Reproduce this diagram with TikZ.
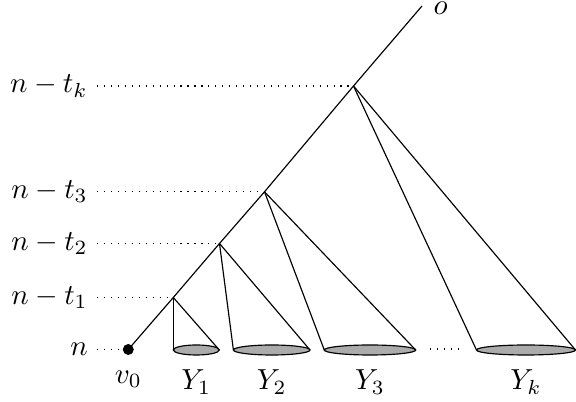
\documentclass[tikz,border=0pt]{standalone}
\begin{document}
\begin{tikzpicture}[x=0.345pt,y=-0.345pt,
  edge/.style={draw=black,line width=0.4pt},
  lvl/.style={draw=black,dotted,line width=0.4pt},
  lab/.style={anchor=east,inner sep=3pt},
  disc/.style={draw=black,fill=black!33,line width=0.4pt}]
\useasboundingbox (0,0) rectangle (576,402);
% main path points
\coordinate (v0) at (128.3,349.5);
\coordinate (a1) at (173.3,297.5);
\coordinate (a2) at (219.5,243.5);
\coordinate (a3) at (264.5,191.8);
\coordinate (ak) at (353.5,86);
\coordinate (top) at (422,6);
% cone bases
\coordinate (b1l) at (173.3,350);
\coordinate (b1r) at (219.3,350);
\coordinate (b2l) at (233.4,350);
\coordinate (b2r) at (310,350);
\coordinate (b3l) at (324.3,350);
\coordinate (b3r) at (415.7,350);
\coordinate (bkl) at (476.5,350);
\coordinate (bkr) at (575.5,350);
% ellipses
\draw[disc] (196.3,350) ellipse [x radius=23,y radius=5];
\draw[disc] (271.7,350) ellipse [x radius=38.3,y radius=5];
\draw[disc] (370,350) ellipse [x radius=45.7,y radius=5];
\draw[disc] (526,350) ellipse [x radius=49.5,y radius=5];
% cone sides
\draw[edge] (a1) -- (b1l);
\draw[edge] (a1) -- (b1r);
\draw[edge] (a2) -- (b2l);
\draw[edge] (a2) -- (b2r);
\draw[edge] (a3) -- (b3l);
\draw[edge] (a3) -- (b3r);
\draw[edge] (ak) -- (bkl);
\draw[edge] (ak) -- (bkr);
% main line
\draw[edge] (v0) -- (a1) -- (a2) -- (a3) -- (ak) -- (top);
\fill[black] (v0) circle [radius=5.5];
\node[inner sep=0pt,anchor=west] (o) at (433,8.5) {$o$};
% level labels
\node[lab] (ln) at (97,349.5) {$n$};
\node[lab] (l1) at (97,297.5) {$n-t_1$};
\node[lab] (l2) at (97,243.5) {$n-t_2$};
\node[lab] (l3) at (97,191.8) {$n-t_3$};
\node[lab] (lk) at (97,86) {$n-t_k$};
\draw[lvl] (ln.east) -- (v0);
\draw[lvl] (l1.east) -- (a1);
\draw[lvl] (l2.east) -- (a2);
\draw[lvl] (l3.east) -- (a3);
\draw[lvl] (lk.east) -- (ak);
% dots between cones
\coordinate (d1) at (430,349);
\coordinate (d2) at (460,349);
\draw[lvl] (d1) -- (d2);
% bottom labels
\node (lv0) at (128.3,379) {$v_0$};
\node (y1) at (196.3,382) {$Y_1$};
\node (y2) at (271.7,382) {$Y_2$};
\node (y3) at (370,382) {$Y_3$};
\node (yk) at (526,382) {$Y_k$};
\end{tikzpicture}
\end{document}
